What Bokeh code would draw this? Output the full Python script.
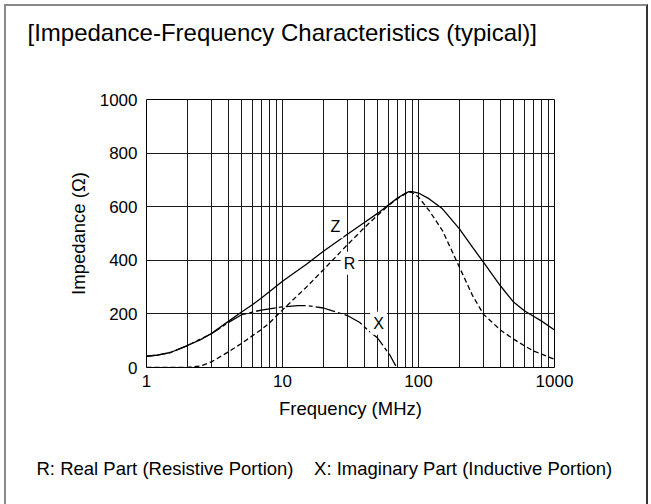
from bokeh.plotting import figure
from bokeh.models import FixedTicker, Label, Title
from bokeh.embed import file_html
from bokeh.resources import INLINE

# ---- data ----
z_freq = [1, 1.2, 1.5, 2, 2.5, 3, 4, 5, 6, 7, 8, 10, 15, 20, 30, 40, 50, 60, 70, 80, 85, 90,
          100, 120, 150, 200, 250, 300, 400, 500, 600, 700, 800, 1000]
z_vals = [42, 46, 56, 82, 104, 127, 172, 207, 234, 259, 283, 322, 385, 434, 497, 541, 575, 606,
          632, 650, 656, 656, 651, 629, 592, 517, 448, 393, 305, 244, 212, 191, 174, 140]

r_freq = [1, 2, 2.5, 3, 4, 5, 6, 7, 8, 10, 15, 20, 30, 40, 50, 60, 70, 80, 85, 90,
          100, 120, 150, 200, 250, 300, 400, 500, 600, 700, 800, 1000]
r_vals = [0, 0, 6, 21, 58, 90, 118, 142, 166, 215, 300, 365, 458, 522, 568, 604, 630, 648,
          655, 653, 636, 585, 511, 374, 268, 199, 140, 106, 81, 62, 50, 31]

x_freq = [1, 1.2, 1.5, 2, 3, 4, 5, 6, 7, 8, 10, 13, 15, 20, 23, 30, 37, 43, 50, 55, 62, 68]
x_vals = [42, 46, 56, 82, 126, 168, 197, 207, 214, 219, 226, 231, 231, 222, 212, 194, 168, 137,
          110, 81, 44, 6]

x_ticks = [1, 10, 100, 1000]
x_tick_labels = ["1", "10", "100", "1000"]
x_minor = [2, 3, 4, 5, 6, 7, 8, 9, 20, 30, 40, 50, 60, 70, 80, 90,
           200, 300, 400, 500, 600, 700, 800, 900]
y_ticks = [0, 200, 400, 600, 800, 1000]

curve_labels = ["Z", "R", "X"]
curve_label_freq = [24.5, 31.1, 50.8]
curve_label_vals = [525, 389, 165]

title_text = "[Impedance-Frequency Characteristics (typical)]"
note_text = "R: Real Part (Resistive Portion)" + "\u00a0" * 4 + "X: Imaginary Part (Inductive Portion)"

FONT = "Liberation Sans"

p = figure(width=644, height=500, x_axis_type="log", x_range=(1, 1000), y_range=(0, 1000),
           output_backend="svg", toolbar_location=None,
           min_border_left=140, min_border_right=96, min_border_top=93, min_border_bottom=139,
           background_fill_color="white", border_fill_color="white",
           styles={"margin": "4px 0 0 4px",
                   "border-left": "2px solid #8a8a8a",
                   "border-top": "2px solid #8a8a8a",
                   "border-right": "2px solid #333333"})

p.outline_line_color = "black"
p.outline_line_width = 1

# title (top-left), separated from the frame by an empty spacer panel
p.title.text = title_text
p.title.align = "left"
p.title.offset = -119
p.title.standoff = 0
p.title.text_font = FONT
p.title.text_font_size = "24px"
p.title.text_font_style = "normal"
p.title.text_color = "black"
p.add_layout(Title(text="\u00a0", text_font_size="1px", standoff=51), "above")

# axes
p.xaxis.ticker = FixedTicker(ticks=x_ticks, minor_ticks=x_minor)
p.xaxis.major_label_overrides = {t: l for t, l in zip(x_ticks, x_tick_labels)}
p.yaxis.ticker = FixedTicker(ticks=y_ticks)
for ax in (p.xaxis, p.yaxis):
    ax.axis_line_color = None
    ax.major_tick_line_color = None
    ax.minor_tick_line_color = None
    ax.major_tick_out = 0
    ax.major_tick_in = 0
    ax.minor_tick_out = 0
    ax.minor_tick_in = 0
    ax.major_label_text_font = FONT
    ax.major_label_text_font_size = "17px"
    ax.major_label_text_color = "black"
    ax.axis_label_text_font = FONT
    ax.axis_label_text_font_size = "18.5px"
    ax.axis_label_text_font_style = "normal"
    ax.axis_label_text_color = "black"
p.xaxis.axis_label = "Frequency (MHz)"
p.yaxis.axis_label = "Impedance (Ω)"
p.xaxis.major_label_standoff = 7
p.xaxis.axis_label_standoff = 8
p.yaxis.major_label_standoff = 9
p.yaxis.axis_label_standoff = 8

# grid
p.xgrid.grid_line_color = "#1a1a1a"
p.xgrid.minor_grid_line_color = "#1a1a1a"
p.ygrid.grid_line_color = "#1a1a1a"
p.xgrid.grid_line_width = 1
p.ygrid.grid_line_width = 1

# curves
p.line(z_freq, z_vals, line_color="black", line_width=1.3)
p.line(r_freq, r_vals, line_color="black", line_width=1.3, line_dash="5 3")
p.line(x_freq, x_vals, line_color="black", line_width=1.3, line_dash="20 3 4 3")

for t, fx, vy in zip(curve_labels, curve_label_freq, curve_label_vals):
    p.add_layout(Label(x=fx, y=vy, text=t, text_align="center", text_baseline="middle",
                       text_font=FONT, text_font_size="16px", text_color="black",
                       background_fill_color="white", padding=3))

# note below the axis, separated by an empty spacer panel
p.add_layout(Title(text="\u00a0", text_font_size="1px", standoff=31), "below")
note = Title(text=note_text, align="left", offset=-110, standoff=0,
             text_font=FONT, text_font_size="18.5px", text_font_style="normal",
             text_color="black")
p.add_layout(note, "below")

open("out.html", "w").write(file_html(p, INLINE))
